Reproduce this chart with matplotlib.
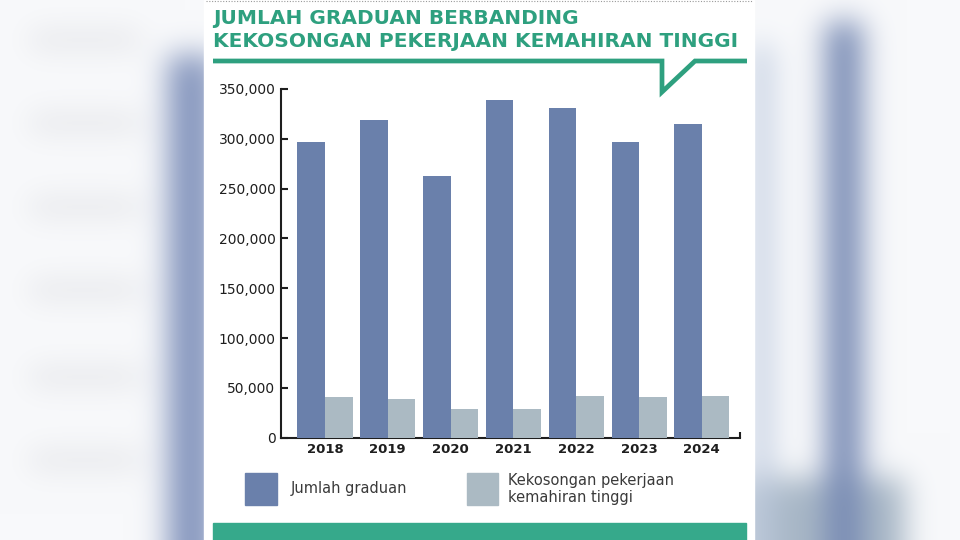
#! /usr/bin/env python3

'''
Bar chart: graduates vs high-skill job vacancies, 2018-2024
'''

import numpy as np
import matplotlib
matplotlib.use('Agg')
import matplotlib.pyplot as plt
from matplotlib.patches import Rectangle


years = ['2018', '2019', '2020', '2021', '2022', '2023', '2024']
graduates = [297000, 319000, 263000, 339000, 331000, 296500, 315000]
vacancies = [40400, 38700, 28400, 28500, 41900, 41200, 41900]

title_lines = ['JUMLAH GRADUAN BERBANDING',
               'KEKOSONGAN PEKERJAAN KEMAHIRAN TINGGI']
label_graduates = 'Jumlah graduan'
label_vacancies = 'Kekosongan pekerjaan\nkemahiran tinggi'

green = '#2ea07f'
green_bar = '#36a98b'
blue = '#6a80ab'
grey = '#abbac3'
ink = '#1e1e1e'
text_grey = '#3a3a3a'

W, H = 960, 540


def blur(img, sigma):
    r = int(3 * sigma)
    k = np.exp(-0.5 * (np.arange(-r, r + 1) / sigma) ** 2)
    k /= k.sum()
    pad = np.pad(img, ((r, r), (r, r), (0, 0)), mode='edge')
    tmp = np.apply_along_axis(lambda v: np.convolve(v, k, 'valid'), 0, pad)
    return np.apply_along_axis(lambda v: np.convolve(v, k, 'valid'), 1, tmp)


def make_background():
    # blurred copy of the infographic behind the panel
    bg = np.ones((H, W, 3)) * np.array([248, 249, 251]) / 255

    def paint(x0, x1, y0, y1, rgb):
        bg[y0:y1, x0:x1] = np.array(rgb) / 255

    for y in (40, 123, 207, 290, 377, 460):
        paint(30, 140, y - 9, y + 9, (228, 229, 233))
    paint(168, 215, 55, H, (132, 149, 189))
    paint(738, 905, 478, H, (168, 183, 198))
    paint(752, 772, 45, H, (192, 204, 224))
    paint(826, 862, 22, H, (118, 137, 179))
    return np.clip(blur(bg, 15), 0, 1)


def main():
    fig = plt.figure(figsize=(W / 100, H / 100), dpi=100)

    # page layer in pixel coordinates
    page = fig.add_axes([0, 0, 1, 1])
    page.imshow(make_background(), extent=(0, W, H, 0), aspect='auto')
    page.set_xlim(0, W)
    page.set_ylim(H, 0)
    page.axis('off')

    page.add_patch(Rectangle((204, 0), 550, H, color='white', zorder=2))
    page.plot([206, 752], [1, 1], color='#9a9a9a', lw=0.8,
              linestyle=(0, (1, 1.5)), zorder=3)

    page.text(213, 23.5, title_lines[0], fontsize=14.5, fontweight='bold',
              color=green, va='baseline', ha='left', zorder=4)
    page.text(213, 46.7, title_lines[1], fontsize=14.5, fontweight='bold',
              color=green, va='baseline', ha='left', zorder=4)
    page.plot([213, 662, 662, 695, 747], [61, 61, 92, 61, 61],
              color=green, lw=3.4, solid_joinstyle='miter',
              solid_capstyle='butt', zorder=4)

    # legend
    page.add_patch(Rectangle((245, 473), 32, 32, color=blue, zorder=4))
    page.text(291, 489, label_graduates, fontsize=10.5, color=text_grey,
              va='center', ha='left', zorder=4)
    page.add_patch(Rectangle((467, 473), 31, 32, color=grey, zorder=4))
    page.text(508, 489, label_vacancies, fontsize=10.5, color=text_grey,
              va='center', ha='left', linespacing=1.15, zorder=4)

    page.add_patch(Rectangle((213, 523), 533, 20, color=green_bar, zorder=4))

    # chart
    x0, x1 = 281, 740
    y_zero, y_top = 437.7, 89
    ax = fig.add_axes([x0 / W, (H - y_zero) / H,
                       (x1 - x0) / W, (y_zero - y_top) / H])
    ax.patch.set_alpha(0)

    idx = np.arange(len(years))
    w = 0.438
    ax.bar(idx - w / 2, graduates, width=w, color=blue, zorder=3)
    ax.bar(idx + w / 2, vacancies, width=w, color=grey, zorder=3)

    ax.set_xlim(-0.7006, 6.608)
    ax.set_ylim(0, 350000)

    yt = list(range(0, 350001, 50000))
    ax.set_yticks(yt)
    ax.set_yticklabels([f'{v:,}' for v in yt])
    ax.tick_params(axis='y', direction='in', length=5, width=1.5,
                   pad=4, labelsize=10, colors=ink)

    ax.set_xticks(idx)
    ax.set_xticklabels(years, fontweight='bold')
    ax.tick_params(axis='x', length=0, pad=4, labelsize=9.5, colors=ink)

    for spine in 'right', 'top':
        ax.spines[spine].set_visible(False)
    for spine in 'left', 'bottom':
        ax.spines[spine].set_linewidth(1.5)
        ax.spines[spine].set_color(ink)
    ax.plot([1, 1], [0, 0.017], transform=ax.transAxes, color=ink,
            lw=1.5, clip_on=False, solid_capstyle='butt')

    fig.savefig('out.png', dpi=100)


if __name__ == '__main__':
    main()
